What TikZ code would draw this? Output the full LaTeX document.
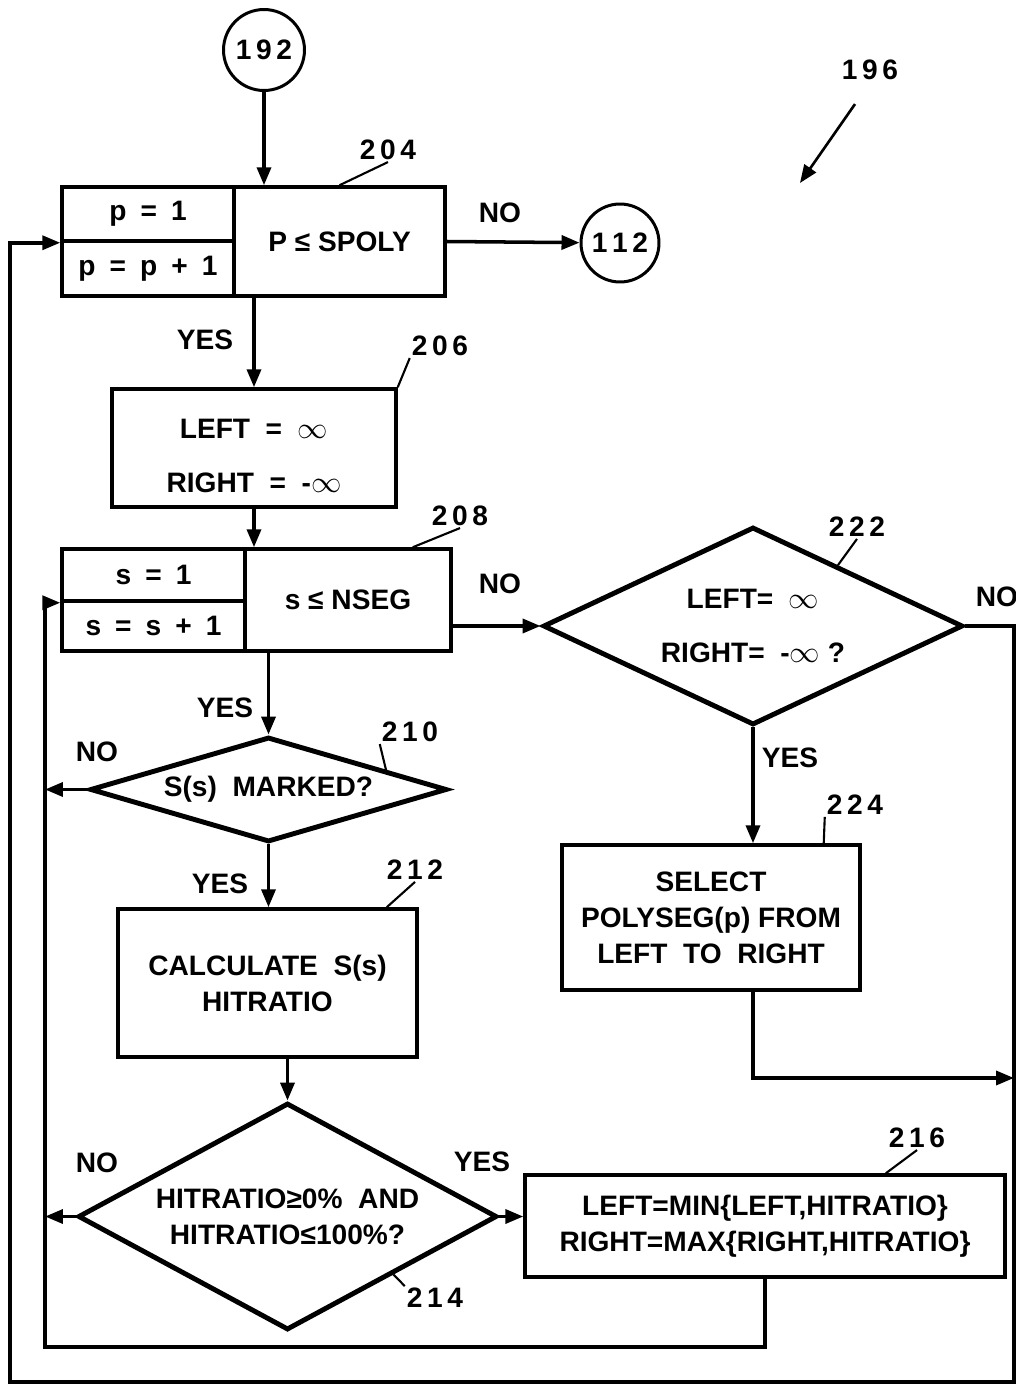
\documentclass[tikz,border=0pt]{standalone}
\usepackage{fontspec}
\setmainfont{Liberation Sans}
\usetikzlibrary{arrows.meta, calc, shapes.geometric}

\begin{document}
\begin{tikzpicture}[
  x=0.02cm, y=-0.02cm,
  font=\fontsize{16}{20.5}\selectfont\bfseries,
  box/.style={rectangle, draw, line width=2pt, align=center, inner sep=0pt},
  decision/.style={diamond, draw, line width=2.8pt, align=center, inner sep=0pt},
  connector/.style={circle, draw, line width=1.7pt, inner sep=0pt},
  arrow/.style={-{Triangle[length=3.6mm, width=2.8mm]}, line width=2pt},
  leader/.style={line width=1.2pt},
  tag/.style={inner sep=1pt}
]
\useasboundingbox (0,0) rectangle (1016,1385);

% outer p loop
\node[connector, minimum size=1.62cm] (c192) at (264,50) {1\,9\,2};
\node[box, minimum width=3.44cm, minimum height=1.08cm] (p1) at (148,214) {p\enspace=\enspace1};
\node[box, minimum width=3.44cm, minimum height=1.1cm] (p2) at (148,268.5) {p\enspace=\enspace p\enspace+\enspace1};
\node[box, minimum width=4.22cm, minimum height=2.18cm] (ploop) at (339.5,241.5) {P ≤ SPOLY};
\node[connector, minimum size=1.56cm] (c112) at (620,243) {1\,1\,2};
\node[box, minimum width=5.68cm, minimum height=2.36cm] (b206) at (254,448)
  {\rule{0pt}{0.7cm}LEFT\ \ =\ \ $\infty$\\[10pt]RIGHT\ \ =\ \ -$\infty$};

% inner s loop
\node[box, minimum width=3.66cm, minimum height=1.04cm] (s1) at (153.5,575) {s\enspace=\enspace1};
\node[box, minimum width=3.66cm, minimum height=1.0cm] (s2) at (153.5,626) {s\enspace=\enspace s\enspace+\enspace1};
\node[box, minimum width=4.12cm, minimum height=2.04cm] (sloop) at (348,600) {s ≤ NSEG};
\node[decision, aspect=3.4, minimum width=7.14cm, minimum height=2.1cm] (d210) at (268.5,789.5) {S(s)\ \ MARKED?};
\node[box, minimum width=5.98cm, minimum height=2.96cm] (b212) at (267.5,983) {CALCULATE\ \ S(s)\\HITRATIO};
\node[decision, aspect=1.85, minimum width=8.38cm, minimum height=4.54cm] (d214) at (287.5,1216.5)
  {HITRATIO≥0\%\ \ AND\\HITRATIO≤100\%?};
\node[box, minimum width=9.6cm, minimum height=2.04cm] (b216) at (765,1226)
  {LEFT=MIN\{LEFT,HITRATIO\}\\RIGHT=MAX\{RIGHT,HITRATIO\}};

% after the s loop
\node[decision, aspect=2.12, minimum width=8.4cm, minimum height=3.96cm] (d222) at (753,626)
  {LEFT=\ \ $\infty$\\[10pt]RIGHT=\ \ -$\infty$ ?};
\node[box, minimum width=5.96cm, minimum height=2.9cm] (b224) at (711,917.5)
  {SELECT\\POLYSEG(p) FROM\\LEFT\ \ TO\ \ RIGHT};

\coordinate (loopin) at (45,1347);
\coordinate (outbr) at (1014,1382);
\coordinate (outbl) at (10,1382);
\coordinate (rjoin) at (1014,1078);
\coordinate (a196) at (800,183);

% reference numbers
\node[tag] (n196) at (870,70) {1\,9\,6};
\node[tag] (n204) at (388,150) {2\,0\,4};
\node[tag] (n206) at (440,346) {2\,0\,6};
\node[tag] (n208) at (460,516) {2\,0\,8};
\node[tag] (n210) at (410,732) {2\,1\,0};
\node[tag] (n212) at (415,870) {2\,1\,2};
\node[tag] (n214) at (435,1298) {2\,1\,4};
\node[tag] (n216) at (917,1138) {2\,1\,6};
\node[tag] (n222) at (857,527) {2\,2\,2};
\node[tag] (n224) at (855,805) {2\,2\,4};

% yes / no
\node[tag] (no204) at (500,213) {NO};
\node[tag] (yes204) at (205,340) {YES};
\node[tag] (no208) at (500,584) {NO};
\node[tag] (yes208) at (225,708) {YES};
\node[tag] (no210) at (97,752) {NO};
\node[tag] (yes210) at (220,884) {YES};
\node[tag] (no214) at (97,1163) {NO};
\node[tag] (yes214) at (482,1162) {YES};
\node[tag] (no222) at (997,597) {NO};
\node[tag] (yes222) at (790,758) {YES};

\draw[arrow] (c192) -- (c192 |- ploop.north);
\draw[arrow] (ploop.east) -- (c112);
\draw[arrow] (ploop.south -| b206.north) -- (b206.north);
\draw[arrow] (b206.south) -- (b206.south |- sloop.north);
\draw[arrow] (sloop.south -| d210.north) -- (d210.north);
\draw[arrow] (d210.south) -- (d210.south |- b212.north);
\draw[arrow] (b212.south -| d214.north) -- (d214.north);
\draw[arrow] (d214.east) -- (d214.east -| b216.west);
\draw[arrow] (d210.west) -- (d210.west -| loopin);
\draw[arrow] (d214.west) -- (d214.west -| loopin);
\draw[arrow] (b216.south) |- (loopin) |- (s1.south west);
\draw[arrow] (d222.west -| sloop.east) -- (d222.west);
\draw[arrow] (d222.south) -- (d222.south |- b224.north);
\draw[arrow] (b224.south -| d222.south) |- (rjoin);
\draw[arrow] (d222.east) -| (outbr) -- (outbl) |- (p1.south west);
\draw[arrow, line width=1.5pt] (n196.south) ++(-15,22) -- (a196);

% leaders
\draw[leader] (n204.south) -- (ploop.north);
\draw[leader] (n206.south west) -- (b206.north east);
\draw[leader] (n208.south) -- ([xshift=-0.8cm]sloop.north east);
\draw[leader] (n210.south west) -- ($(d210.north)!0.65!(d210.east)$);
\draw[leader] (n212.south) -- ([xshift=-0.64cm]b212.north east);
\draw[leader] (d214.south east) -- (n214.north west);
\draw[leader] (n216.south) -- ($(b216.north west)!0.75!(b216.north east)$);
\draw[leader] (n222.south) -- ($(d222.north)!0.4!(d222.east)$);
\draw[leader] (n224.south west) -- ([xshift=-0.76cm]b224.north east);
\end{tikzpicture}
\end{document}
